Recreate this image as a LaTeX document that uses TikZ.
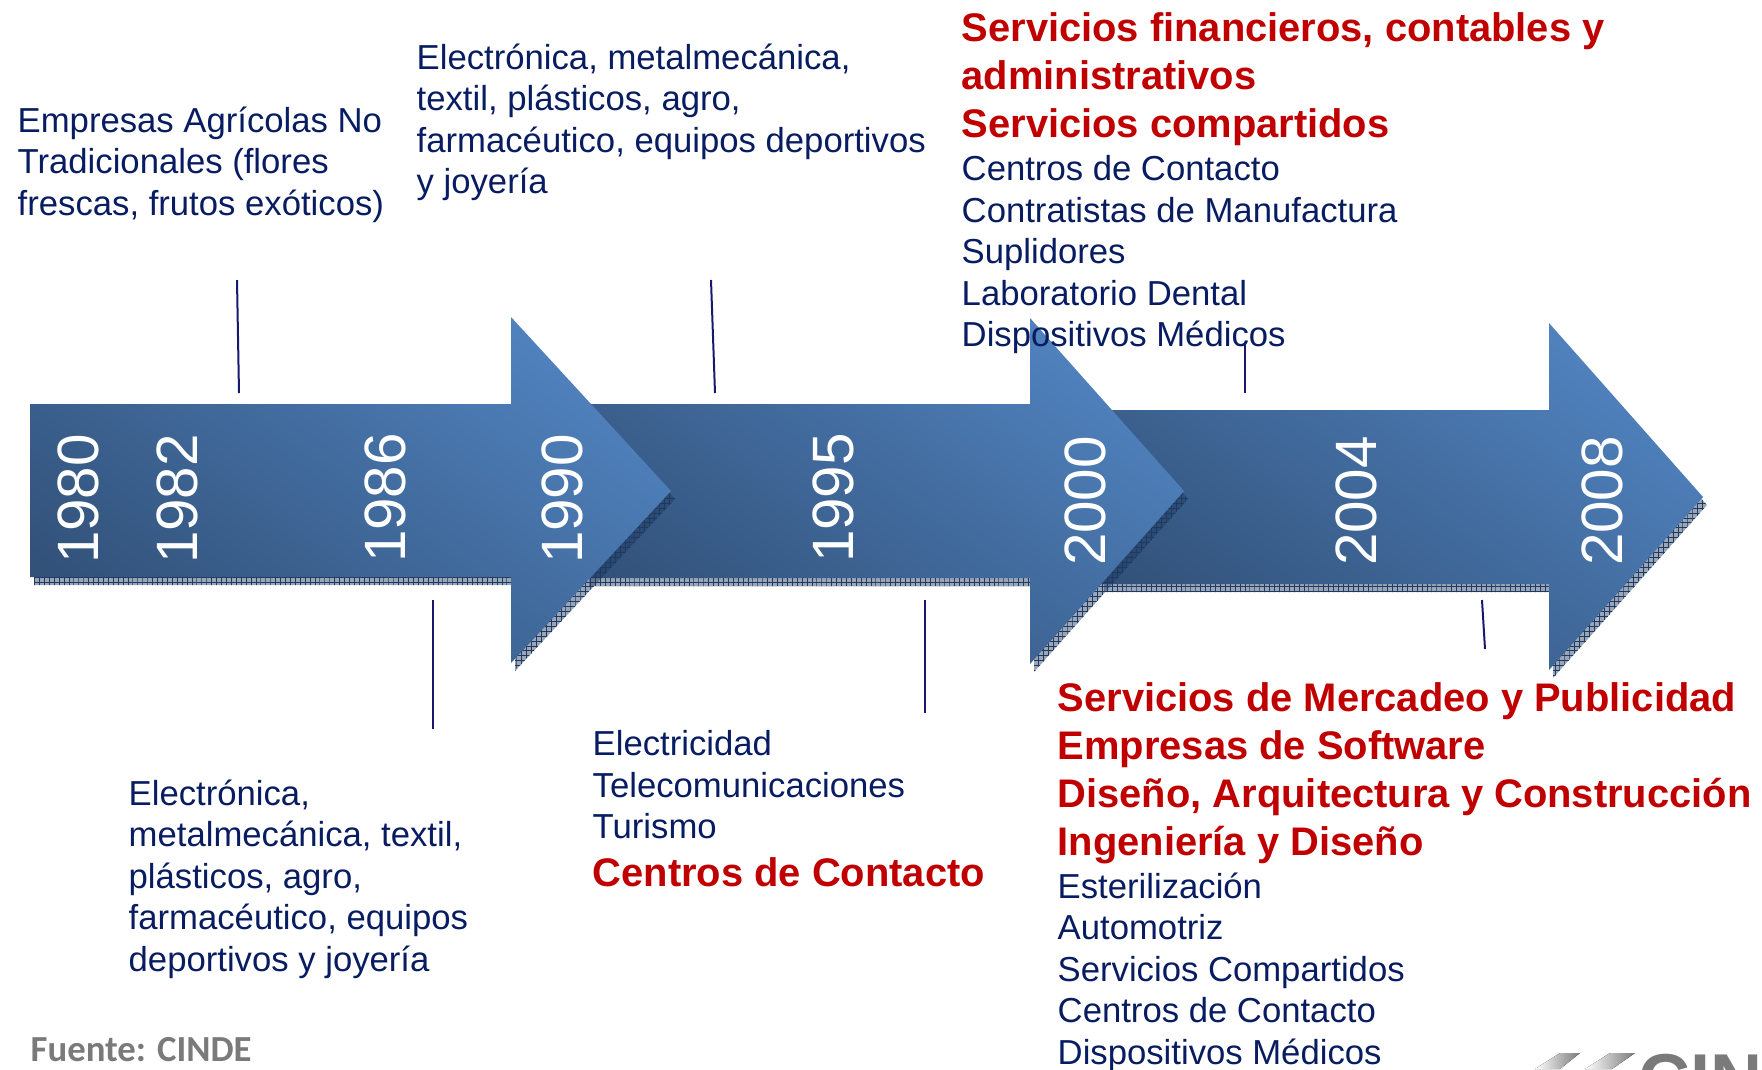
\documentclass[tikz,border=0pt]{standalone}
\usepackage{fontspec}
\setmainfont{Liberation Sans}
\newfontfamily\fuentefont{Carlito}
\usetikzlibrary{patterns}
\definecolor{arrowdark}{RGB}{50, 82, 122}
\definecolor{arrowlight}{RGB}{80, 130, 190}
\definecolor{shadowblue}{RGB}{31, 58, 96}
\definecolor{textnavy}{RGB}{8, 28, 98}
\definecolor{textred}{RGB}{192, 0, 0}
\definecolor{linenavy}{RGB}{24, 24, 110}
\definecolor{logogray}{RGB}{122, 122, 122}
\pgfdeclarepatternformonly{shadowgrid}{\pgfqpoint{-0.1pt}{-0.1pt}}{\pgfqpoint{1.5pt}{1.5pt}}{\pgfqpoint{1.4pt}{1.4pt}}{
    \pgfsetlinewidth{0.2pt}
    \pgfpathmoveto{\pgfqpoint{0pt}{0pt}}\pgfpathlineto{\pgfqpoint{1.4pt}{0pt}}
    \pgfpathmoveto{\pgfqpoint{0pt}{0pt}}\pgfpathlineto{\pgfqpoint{0pt}{1.4pt}}
    \pgfusepath{stroke}
}
\tikzset{
    yearlabel/.style={
        rotate=90, text=white, font=\fontsize{16.6}{18}\selectfont, inner sep=0pt
    },
    navytext/.style={
        anchor=north west, align=left, inner sep=0pt, text=textnavy,
        font=\fontsize{9.87}{11.8}\selectfont
    },
    redtext/.style={
        anchor=north west, align=left, inner sep=0pt, text=textred,
        font=\fontsize{11.35}{13.6}\selectfont\bfseries
    },
    leader/.style={
        draw=linenavy, line width=0.2mm
    }
}
% x0, body top, body bottom, head x, head top, tip x, tip y, head bottom
\newcommand{\timearrow}[8]{
    \path[fill=shadowblue, fill opacity=0.45, shift={(4,8)}]
        (#1,#2) -- (#4,#2) -- (#4,#5) -- (#6,#7) -- (#4,#8) -- (#4,#3) -- (#1,#3) -- cycle;
    \path[pattern=shadowgrid, pattern color=shadowblue, shift={(4,8)}]
        (#1,#2) -- (#4,#2) -- (#4,#5) -- (#6,#7) -- (#4,#8) -- (#4,#3) -- (#1,#3) -- cycle;
    \path[bottom color=arrowdark, top color=arrowlight, shading angle=-35]
        (#1,#2) -- (#4,#2) -- (#4,#5) -- (#6,#7) -- (#4,#8) -- (#4,#3) -- (#1,#3) -- cycle;
}
\begin{document}
\begin{tikzpicture}[x=0.1mm, y=-0.1mm]
    \useasboundingbox (0,0) rectangle (1762,1069);

    % --- arrows, last one at the back ---
    \timearrow{1100}{410}{584}{1549}{323}{1703}{497}{670}
    \timearrow{585}{404}{578}{1030}{318}{1184}{491}{664}
    \timearrow{30}{404}{577}{511}{317}{671}{491}{663}

    % --- years ---
    \node[yearlabel] (y1980) at (78,499) {1980};
    \node[yearlabel] (y1982) at (177,499) {1982};
    \node[yearlabel] (y1986) at (385,498) {1986};
    \node[yearlabel] (y1990) at (562,499) {1990};
    \node[yearlabel] (y1995) at (833,498) {1995};
    \node[yearlabel] (y2000) at (1085,501) {2000};
    \node[yearlabel] (y2004) at (1356,501) {2004};
    \node[yearlabel] (y2008) at (1602,501) {2008};

    % --- texts above ---
    \node[navytext] (agricolas) at (17,106) {Empresas Agrícolas No\\Tradicionales (flores\\frescas, frutos exóticos)};
    \node[navytext] (electronica) at (416,43) {Electrónica, metalmecánica,\\textil, plásticos, agro,\\farmacéutico, equipos deportivos\\y joyería};
    \node[redtext] (financieros) at (961,12) {Servicios financieros, contables y\\administrativos\\Servicios compartidos};
    \node[navytext] (contacto) at (961,155) {Centros de Contacto\\Contratistas de Manufactura\\Suplidores\\Laboratorio Dental\\Dispositivos Médicos};

    % --- texts below ---
    \node[navytext] (electronicab) at (128,779) {Electrónica,\\metalmecánica, textil,\\plásticos, agro,\\farmacéutico, equipos\\deportivos y joyería};
    \node[navytext] (electricidad) at (592,730) {Electricidad\\Telecomunicaciones\\Turismo};
    \node[redtext] (contactob) at (592,857) {Centros de Contacto};
    \node[redtext] (mercadeo) at (1057,682) {Servicios de Mercadeo y Publicidad\\Empresas de Software\\Diseño, Arquitectura y Construcción\\Ingeniería y Diseño};
    \node[navytext] (esteril) at (1057,872) {Esterilización\\Automotriz\\Servicios Compartidos\\Centros de Contacto\\Dispositivos Médicos};
    \node[anchor=west, inner sep=0pt, text=logogray, font=\fontsize{10.45}{12}\fuentefont\bfseries] (fuente) at (30,1050) {Fuente: CINDE};

    % --- leader lines ---
    \coordinate (la) at (237,280);
    \coordinate (lb) at (239,393);
    \coordinate (lc) at (711,280);
    \coordinate (ld) at (715,393);
    \coordinate (le) at (1245,343);
    \coordinate (lf) at (1245,393);
    \coordinate (lg) at (433,600);
    \coordinate (lh) at (433,729);
    \coordinate (li) at (925,600);
    \coordinate (lj) at (925,713);
    \coordinate (lk) at (1482,600);
    \coordinate (ll) at (1485,649);
    \draw[leader] (la) -- (lb);
    \draw[leader] (lc) -- (ld);
    \draw[leader] (le) -- (lf);
    \draw[leader] (lg) -- (lh);
    \draw[leader] (li) -- (lj);
    \draw[leader] (lk) -- (ll);

    % --- logo, cut by the page ---
    \begin{scope}
        \clip (1500,1053) rectangle (1762,1069);
        \fill[left color=white, right color=logogray] (1535,1069) -- (1560,1053) -- (1580,1053) -- (1560,1069) -- cycle;
        \fill[left color=white, right color=logogray] (1585,1069) -- (1610,1053) -- (1635,1053) -- (1612,1069) -- cycle;
        \node[anchor=north west, inner sep=0pt, text=logogray, font=\fontsize{20.5}{24}\selectfont\bfseries] (logo) at (1638,1053) {CINDE};
    \end{scope}
\end{tikzpicture}
\end{document}
